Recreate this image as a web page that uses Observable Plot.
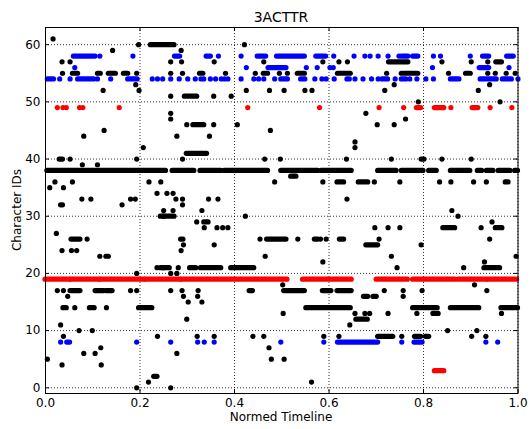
<!DOCTYPE html>
<html>
<head>
<meta charset="utf-8">
<script src="https://cdn.jsdelivr.net/npm/d3@7"></script>
<script src="https://cdn.jsdelivr.net/npm/@observablehq/plot@0.6"></script>
<style>
  body { margin: 0; background: #fff; }
  #wrap { position: relative; width: 530px; height: 429px; font-family: "DejaVu Sans", sans-serif; }
  .lbl { position: absolute; color: #000; white-space: nowrap; font-family: "DejaVu Sans", sans-serif; line-height: 1; }
</style>
</head>
<body>
<div id="wrap">
  <div class="lbl" id="title" style="left:0;width:562px;top:10px;text-align:center;font-size:14px;">3ACTTR</div>
  <div class="lbl" id="xlab" style="left:0;width:562px;top:411px;text-align:center;font-size:12px;">Normed Timeline</div>
  <div class="lbl" id="ylab" style="left:17px;top:210px;font-size:12px;transform:translate(-50%,-50%) rotate(-90deg);">Character IDs</div>
</div>
<script>
// ---- Data (x = normed timeline, y = character id) ----
const xTicks = [0, 0.2, 0.4, 0.6, 0.8, 1.0];
const yTicks = [0, 10, 20, 30, 40, 50, 60];

// isolated black points: [x, y]
const blackDots = [
  [0.016,61],
  [0.197,60],[0.421,60],
  [0.142,59],[0.287,59],
  [0.035,57],[0.052,57],[0.265,57],[0.288,57],[0.357,57],[0.462,57],[0.587,57],[0.621,57],[0.639,57],[0.839,57],[0.901,57],[0.936,57],
  [0.036,55],[0.193,55],[0.265,55],[0.290,55],[0.381,55],[0.444,55],[0.495,55],[0.512,55],[0.722,55],[0.853,55],[0.936,55],[0.952,55],[0.975,55],[0.994,55],
  [0.191,53],[0.738,53],[0.940,53],
  [0.122,52],[0.198,52],[0.425,52],[0.474,52],[0.505,52],[0.549,52],[0.564,52],[0.718,52],[0.916,52],
  [0.265,51],[0.356,51],[0.393,51],
  [0.789,50],[0.962,50],
  [0.265,48],[0.678,48],
  [0.265,47],[0.762,47],
  [0.299,46],[0.356,46],[0.406,46],[0.702,46],[0.738,46],
  [0.124,45],[0.476,45],
  [0.081,44],[0.278,44],[0.347,44],
  [0.655,43],
  [0.207,42],[0.655,42],
  [0.052,40],[0.193,40],[0.290,40],[0.464,40],[0.497,40],[0.637,40],[0.732,40],[0.839,40],[0.901,40],
  [0.078,39],[0.110,39],
  [0.020,36],[0.057,36],[0.219,36],[0.244,36],[0.485,36],[0.587,36],[0.696,36],[0.750,36],[0.834,36],[0.858,36],[0.906,36],[0.933,36],
  [0.009,35],[0.038,35],
  [0.236,34],[0.257,34],[0.270,34],
  [0.077,33],[0.096,33],[0.180,33],[0.190,33],[0.276,33],[0.290,33],[0.345,33],[0.365,33],[0.638,33],
  [0.162,32],[0.290,32],
  [0.250,31],[0.270,31],[0.331,31],[0.860,31],
  [0.250,30],[0.423,30],[0.873,30],
  [0.320,29],[0.945,29],
  [0.336,28],[0.363,28],[0.375,28],[0.386,28],[0.697,28],[0.725,28],[0.750,28],[0.922,28],
  [0.023,27],
  [0.088,26],[0.454,26],[0.534,26],[0.582,26],[0.594,26],[0.706,26],[0.940,26],
  [0.292,25],[0.357,25],[0.795,25],
  [0.035,24],[0.055,24],[0.066,24],[0.287,24],
  [0.115,23],[0.465,23],[0.732,23],[0.996,23],
  [0.587,22],[0.929,22],
  [0.236,21],[0.249,21],[0.281,21],[0.744,21],[0.885,21],
  [0.193,20],[0.265,20],[0.278,20],
  [0.502,18],[0.908,18],
  [0.025,17],[0.038,17],[0.180,17],[0.193,17],[0.265,17],[0.289,17],[0.323,17],[0.717,17],[0.757,17],[0.797,17],[0.934,17],
  [0.047,16],[0.292,16],[0.322,16],[0.757,16],
  [0.302,15],[0.331,15],
  [0.062,14],[0.129,14],
  [0.503,13],[0.655,13],[0.676,13],[0.686,13],[0.725,13],[0.786,13],[0.965,13],
  [0.299,12],
  [0.032,11],[0.644,11],
  [0.071,10],[0.099,10],[0.851,10],[0.913,10],
  [0.038,9],[0.237,9],[0.321,9],[0.357,9],[0.439,9],[0.462,9],[0.589,9],[0.621,9],[0.754,9],[0.902,9],[0.932,9],
  [0.117,7],[0.473,7],
  [0.081,6],[0.105,6],[0.278,6],
  [0.004,5],[0.478,5],[0.505,5],
  [0.035,4],[0.118,4],
  [0.218,1],[0.563,1],
  [0.193,0],[0.265,0]
];

// dense black runs: [xStart, xEnd, y]
const blackRuns = [
  [0.223,0.273,60],
  [0.727,0.768,57],[0.954,0.966,57],
  [0.058,0.069,55],[0.111,0.117,55],[0.134,0.149,55],[0.166,0.175,55],[0.327,0.334,55],[0.462,0.471,55],[0.534,0.549,55],[0.619,0.646,55],[0.754,0.789,55],[0.890,0.900,55],
  [0.295,0.321,51],
  [0.313,0.336,46],
  [0.299,0.342,41],
  [0.030,0.037,40],[0.796,0.802,40],
  [0.004,0.255,38],[0.269,0.315,38],[0.328,0.372,38],[0.379,0.471,38],[0.499,0.577,38],[0.584,0.648,38],[0.704,0.743,38],[0.754,0.800,38],[0.812,0.828,38],[0.858,0.899,38],[0.915,0.924,38],[0.934,0.948,38],[0.959,0.984,38],[0.994,1.0,38],
  [0.520,0.531,37],
  [0.618,0.632,36],[0.663,0.683,36],[0.974,0.980,36],
  [0.033,0.037,32],
  [0.244,0.273,30],
  [0.336,0.345,29],
  [0.842,0.867,28],[0.953,0.967,28],
  [0.055,0.074,26],[0.287,0.292,26],[0.469,0.510,26],[0.570,0.577,26],[0.623,0.632,26],
  [0.679,0.704,25],
  [0.129,0.134,23],
  [0.244,0.263,21],[0.306,0.319,21],[0.329,0.372,21],[0.393,0.442,21],[0.929,0.962,21],
  [0.053,0.074,17],[0.106,0.124,17],[0.129,0.142,17],[0.432,0.439,17],[0.505,0.549,17],[0.587,0.605,17],[0.618,0.648,17],
  [0.674,0.683,16],[0.694,0.701,16],
  [0.038,0.045,14],[0.094,0.104,14],[0.198,0.226,14],[0.552,0.646,14],[0.778,0.830,14],[0.858,0.918,14],[0.965,1.0,14],
  [0.821,0.832,13],
  [0.658,0.682,12],
  [0.704,0.736,9],[0.782,0.795,9],[0.805,0.812,9],
  [0.230,0.237,2]
];

// isolated blue points
const blueDots = [
  [0.115,58],[0.185,58],[0.366,58],[0.414,58],[0.610,58],[0.653,58],[0.676,58],[0.687,58],[0.704,58],[0.725,58],[0.748,58],[0.821,58],[0.836,58],[0.899,58],
  [0.062,56],[0.425,56],[0.552,56],[0.575,56],[0.602,56],[0.609,56],[0.819,56],[0.981,56],
  [0.030,54],[0.052,54],[0.110,54],[0.138,54],[0.226,54],[0.237,54],[0.248,54],[0.265,54],[0.283,54],[0.301,54],[0.317,54],[0.329,54],[0.335,54],[0.349,54],[0.360,54],[0.372,54],[0.379,54],[0.386,54],[0.414,54],[0.441,54],[0.451,54],[0.462,54],[0.485,54],[0.570,54],[0.585,54],[0.594,54],[0.611,54],[0.655,54],[0.672,54],[0.690,54],[0.704,54],[0.740,54],[0.771,54],[0.786,54],[0.805,54],[0.821,54],[1.0,54],
  [0.032,8],[0.193,8],[0.265,8],[0.322,8],[0.336,8],[0.357,8],[0.498,8],[0.589,8],[0.754,8],[0.932,8],[0.957,8]
];

// dense blue runs
const blueRuns = [
  [0.060,0.106,58],[0.274,0.285,58],[0.341,0.350,58],[0.449,0.467,58],[0.490,0.549,58],[0.573,0.594,58],[0.754,0.768,58],[0.778,0.789,58],[0.926,0.939,58],[0.977,0.991,58],
  [0.472,0.510,56],[0.919,0.939,56],
  [0.005,0.018,54],[0.069,0.103,54],[0.175,0.195,54],[0.499,0.513,54],[0.541,0.550,54],[0.639,0.644,54],[0.713,0.725,54],[0.754,0.764,54],[0.858,0.876,54],[0.921,0.955,54],[0.968,0.987,54],
  [0.046,0.052,8],[0.619,0.704,8],[0.781,0.798,8]
];

// isolated red points
const redDots = [
  [0.025,49],[0.037,49],[0.044,49],[0.072,49],[0.079,49],[0.156,49],[0.428,49],[0.580,49],[0.706,49],[0.758,49],[0.858,49],[0.941,49],[0.987,49]
];

// dense red runs
const redRuns = [
  [0.786,0.795,49],[0.824,0.844,49],[0.904,0.916,49],
  [0.0,0.052,19],[0.054,0.114,19],[0.116,0.210,19],[0.212,0.286,19],[0.288,0.512,19],[0.545,0.648,19],[0.701,0.767,19],[0.778,0.867,19],[0.874,0.934,19],[0.937,0.998,19],
  [0.824,0.844,3]
];

// ---- build tables ----
const dots = [
  ...blackDots.map(([x, y]) => ({x, y, c: "#000000"})),
  ...blueDots.map(([x, y]) => ({x, y, c: "#0000ff"})),
  ...redDots.map(([x, y]) => ({x, y, c: "#ff0000"}))
];
const runs = [
  ...blackRuns.map(([x1, x2, y]) => ({x1, x2, y, c: "#000000"})),
  ...blueRuns.map(([x1, x2, y]) => ({x1, x2, y, c: "#0000ff"})),
  ...redRuns.map(([x1, x2, y]) => ({x1, x2, y, c: "#ff0000"}))
];

const W = 530, H = 429, mL = 45, mR = 12.5, mT = 27, mB = 36;
const fw = W - mL - mR, fh = H - mT - mB;
const tick = 4;

const chart = Plot.plot({
  width: W, height: H,
  marginLeft: mL, marginRight: mR, marginTop: mT, marginBottom: mB,
  style: {fontFamily: "DejaVu Sans, sans-serif", fontSize: "12px", background: "#fff", color: "#000", overflow: "visible"},
  x: {domain: [0, 1], axis: null},
  y: {domain: [-1, 63], axis: null},
  color: {type: "identity"},
  marks: [
    Plot.gridX(xTicks, {stroke: "#000", strokeOpacity: 1, strokeWidth: 0.8, strokeDasharray: "1,2"}),
    Plot.gridY(yTicks, {stroke: "#000", strokeOpacity: 1, strokeWidth: 0.8, strokeDasharray: "1,2"}),
    Plot.ruleY(runs, {x1: "x1", x2: "x2", y: "y", stroke: "c", strokeWidth: 5.2, strokeLinecap: "round"}),
    Plot.dot(dots, {x: "x", y: "y", r: 2.6, fill: "c", stroke: null}),
    // inward ticks on all four sides
    Plot.ruleX(xTicks, {x: d => d, insetTop: fh - tick, stroke: "#000"}),
    Plot.ruleX(xTicks, {x: d => d, insetBottom: fh - tick, stroke: "#000"}),
    Plot.ruleY(yTicks, {y: d => d, insetRight: fw - tick, stroke: "#000"}),
    Plot.ruleY(yTicks, {y: d => d, insetLeft: fw - tick, stroke: "#000"}),
    Plot.axisX(xTicks, {anchor: "bottom", tickSize: 0, tickPadding: 5, tickFormat: d3.format(".1f"), label: null, fontSize: 12}),
    Plot.axisY(yTicks, {anchor: "left", tickSize: 0, tickPadding: 5, label: null, fontSize: 12}),
    Plot.frame({stroke: "#000", strokeWidth: 1})
  ]
});
document.getElementById("wrap").prepend(chart);
chart.style.position = "absolute";
chart.style.left = "0";
chart.style.top = "0";
</script>
</body>
</html>
